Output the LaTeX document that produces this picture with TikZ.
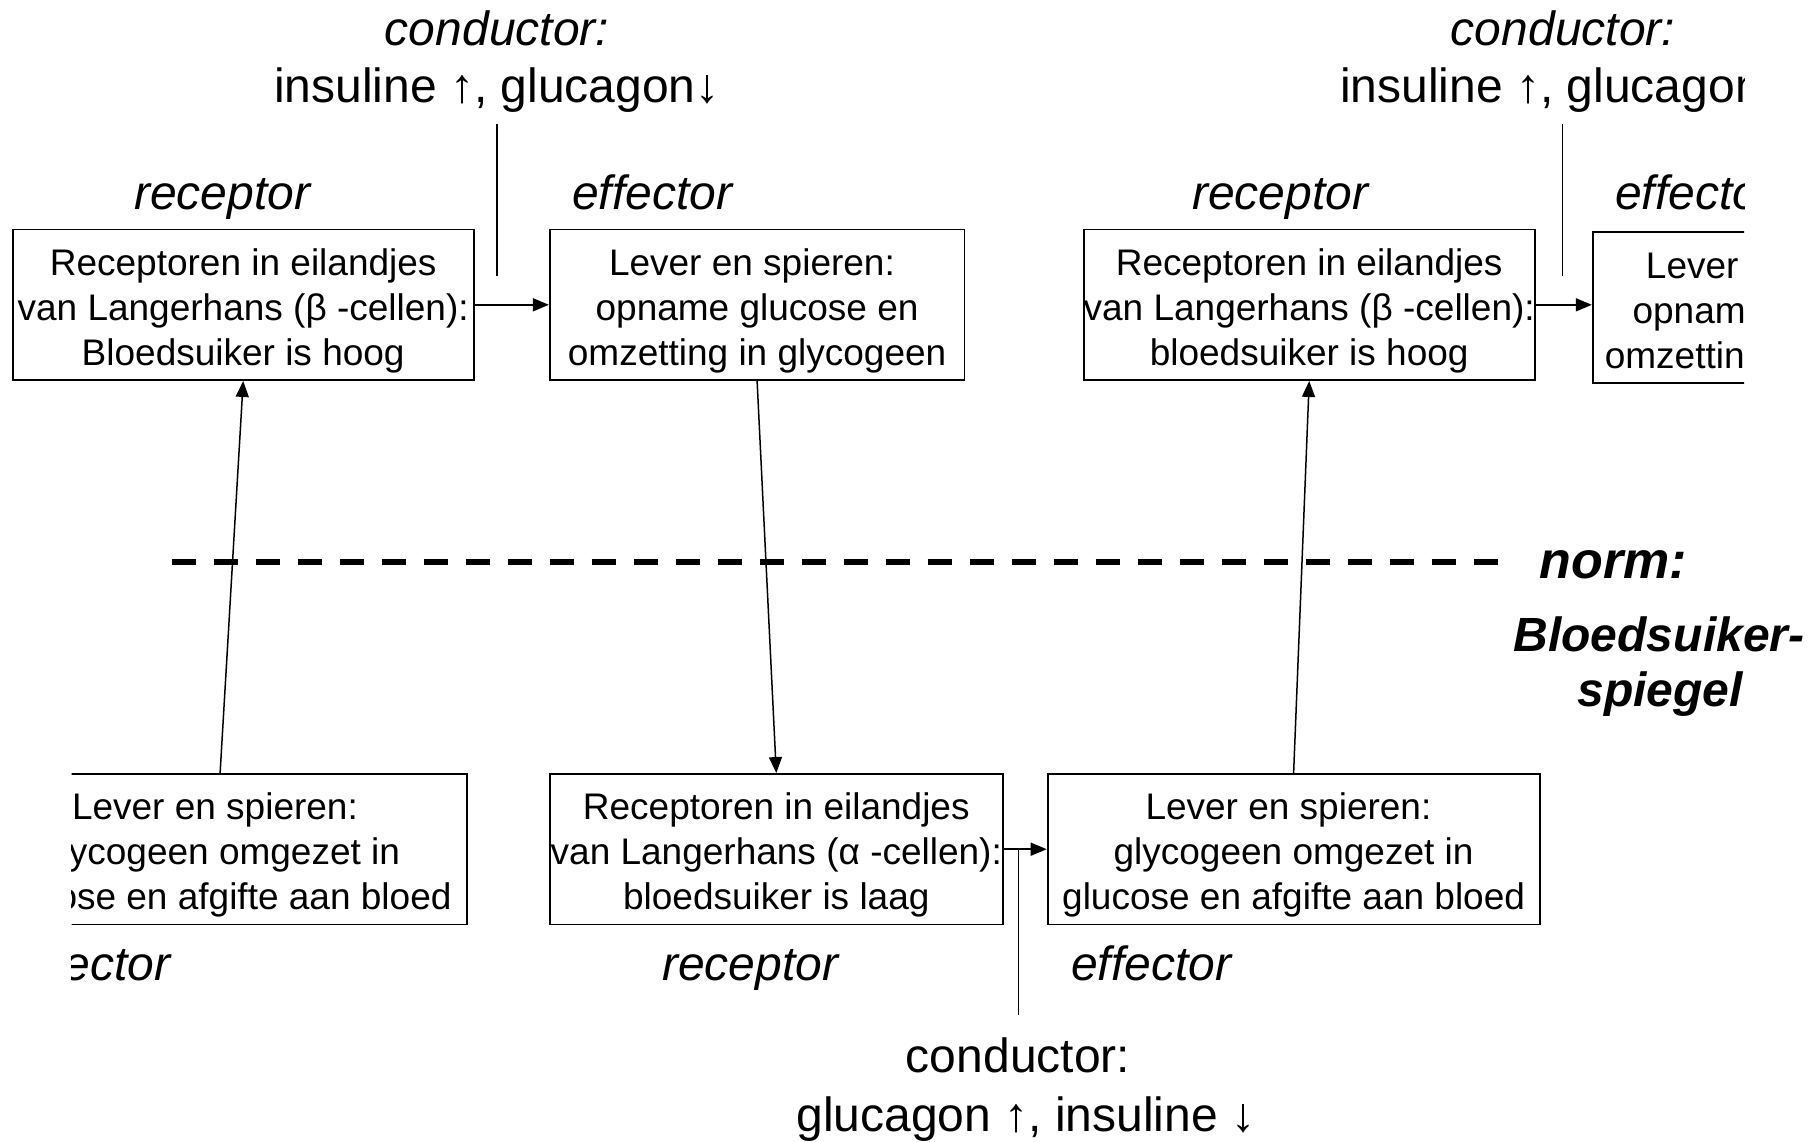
\documentclass[tikz,border=0pt]{standalone}
\usepackage{fontspec}
\setmainfont{Liberation Sans}
\usetikzlibrary{arrows.meta,calc}
% extra height on the first line of a box, to sit the text a little lower
\newcommand\boxstrut{\rule{0pt}{39pt}}
% small trailing space after a line
\newcommand\trail{\kern0.278em}
\begin{document}
\begin{tikzpicture}[x=1pt,y=-1pt,
  box/.style={draw, line width=1.8pt, align=center, inner sep=0pt,
    minimum height=150.5pt, font=\fontsize{37}{45}\selectfont},
  lbl/.style={anchor=base west, inner sep=0pt, font=\fontsize{48}{58}\selectfont\itshape},
  cond/.style={anchor=base, inner sep=0pt, font=\fontsize{48}{58}\selectfont},
  condit/.style={anchor=base, inner sep=0pt, font=\fontsize{48}{58}\selectfont\itshape},
  link/.style={line width=1.5pt},
  arr/.style={link, -{Triangle[length=16pt,width=13pt]}},
  normline/.style={line width=5.7pt, dash pattern=on 24pt off 18pt},
  normtxt/.style={anchor=base, inner sep=0pt, font=\fontsize{48}{58}\selectfont\bfseries\itshape}]
\useasboundingbox (0,0) rectangle (1811,1141);

% upper row: beta cells and liver (blood sugar too high)
\node[box, minimum width=461pt] (A) at (243.2,304.8)
  {\boxstrut Receptoren in eilandjes\\van Langerhans (β -cellen):\\Bloedsuiker is hoog};
\node[box, minimum width=414.6pt] (B) at (757.1,304.8)
  {\boxstrut Lever en spieren:\trail\\opname glucose en\\omzetting in glycogeen};
\node[box, minimum width=447pt] (C) at (1309.2,304.8)
  {\boxstrut Receptoren in eilandjes\\van Langerhans (β -cellen):\\bloedsuiker is hoog};

\node[lbl] (recA) at (134,209) {receptor};
\node[lbl] (effB) at (572,209) {effector};
\node[lbl] (recC) at (1192,209) {receptor};

\node[condit] (cndA) at (497,45.5) {conductor:};
\node[cond] (insA) at (497,102.3) {insuline ↑, glucagon↓};

% right edge: the cycle runs on past the border
\begin{scope}
  \clip (0,0) rectangle (1744,1141);
  \node[box, minimum width=402.6pt, minimum height=151.6pt] (D) at (1794,307.5)
    {\boxstrut Lever en spieren:\trail\\opname glucose en\\omzetting in glycogeen};
  \node[lbl] (effD) at (1615,209) {effector};
  \node[condit] (cndC) at (1563,45.5) {conductor:};
  \node[cond] (insC) at (1563,102.3) {insuline ↑, glucagon↓};
\end{scope}

% lower row: alpha cells and liver (blood sugar too low)
\begin{scope}
  \clip (71.7,0) rectangle (1811,1141);
  \node[box, minimum width=493pt] (E) at (220.1,849.2)
    {\boxstrut Lever en spieren:\trail\\glycogeen omgezet in\\glucose en afgifte aan bloed};
  \node[lbl] (effE) at (10,980) {effector};
\end{scope}
\node[box, minimum width=453pt] (F) at (776.3,849.2)
  {\boxstrut Receptoren in eilandjes\\van Langerhans (α -cellen):\\bloedsuiker is laag};
\node[box, minimum width=492pt] (G) at (1293.6,849.2)
  {\boxstrut Lever en spieren:\trail\\glycogeen omgezet in\\glucose en afgifte aan bloed};

\node[lbl] (recF) at (662,980) {receptor};
\node[lbl] (effG) at (1071,980) {effector};

\node[cond] (cndG) at (1018,1072.7) {conductor:};
\node[cond] (gluG) at (1026,1131.7) {glucagon ↑, insuline ↓};

% norm line and its label
\coordinate (nl0) at (171.7,562);
\coordinate (nl1) at (1497.7,562);
\draw[normline] (nl0) -- (nl1);
\node[normtxt, font=\fontsize{52}{60}\selectfont\bfseries\itshape] (norm) at (1613.5,578) {norm:};
\node[normtxt] (bs1) at (1659,651.5) {Bloedsuiker-};
\node[normtxt] (bs2) at (1660,706) {spiegel};

% connectors
\draw[arr] (A.east) -- (B.west);
\draw[arr] (C.east) -- (C.east -| D.west);
\draw[arr] (F.east) -- (G.west);
\draw[arr] (E.north) -- (A.south);
\draw[arr] (B.south) -- (F.north);
\draw[arr] (G.north) -- (C.south);

% conductor lines
\coordinate (tA0) at (497,124);
\coordinate (tA1) at (497,276);
\draw[link] (tA0) -- (tA1);
\coordinate (tC0) at (1562.7,124);
\coordinate (tC1) at (1562.7,276);
\draw[link] (tC0) -- (tC1);
\coordinate (tF0) at (1018.3,849.2);
\coordinate (tF1) at (1018.3,1015);
\draw[link] (tF0) -- (tF1);
\end{tikzpicture}
\end{document}
